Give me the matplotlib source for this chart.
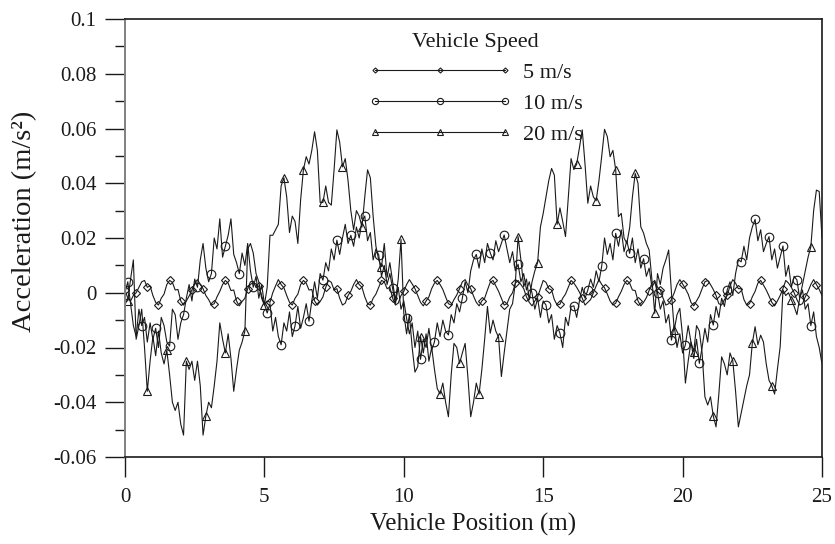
import numpy as np
import matplotlib
matplotlib.use("Agg")
import matplotlib.pyplot as plt
from matplotlib.ticker import MultipleLocator, FuncFormatter

plt.rcParams["font.family"] = ["Liberation Serif", "DejaVu Serif"]

# Vehicle position grid (m), one sample every 0.1 m
position = np.round(np.arange(0, 25.0001, 0.1), 1)

# Acceleration response (m/s^2) for each vehicle speed
acc_5 = [
    0.001, -0.002, -0.003, -0.001, 0.0, 0.002, 0.004, 0.0045, 0.002, 0.0025,
    -0.001, -0.0035, -0.0045, -0.002, -0.0005, 0.003, 0.0045, 0.0038, 0.001, 0.0012,
    -0.003, -0.0045, -0.003, -0.0012, 0.001, 0.0035, 0.0048, 0.003, 0.0015, -0.001,
    -0.0025, -0.0045, -0.004, -0.0015, 0.0005, 0.003, 0.0045, 0.0035, 0.0008, 0.001,
    -0.003, -0.0048, -0.0032, -0.002, 0.0015, 0.004, 0.0042, 0.002, 0.0025, -0.001,
    -0.0045, -0.003, -0.0035, 0.0, 0.0025, 0.0048, 0.003, 0.0018, -0.001, -0.0035,
    -0.0045, -0.002, -0.0005, 0.003, 0.0045, 0.0035, 0.001, 0.0012, -0.003, -0.0045,
    -0.0032, -0.0015, 0.002, 0.0045, 0.0038, 0.001, 0.0015, -0.002, -0.0045, -0.0038,
    -0.001, 0.0005, 0.003, 0.0048, 0.003, 0.002, -0.0015, -0.004, -0.0045, -0.002,
    -0.0005, 0.002, 0.0045, 0.004, 0.0015, 0.002, -0.002, -0.0045, -0.0038, -0.001,
    0.0005, 0.003, 0.0048, 0.0032, 0.0015, -0.001, -0.0035, -0.0048, -0.003, -0.0015,
    0.0015, 0.0035, 0.0045, 0.003, 0.0012, -0.0015, -0.004, -0.0045, -0.0025, -0.0008,
    0.0015, 0.004, 0.0048, 0.0028, 0.0015, -0.0012, -0.0035, -0.0048, -0.003, -0.002,
    0.001, 0.0038, 0.0045, 0.0025, 0.0005, -0.002, -0.0045, -0.004, -0.0015, 0.0,
    0.0035, 0.0045, 0.003, 0.0015, -0.0015, -0.0035, -0.0048, -0.003, -0.0015, 0.0015,
    0.0045, 0.0038, 0.0015, 0.001, -0.0025, -0.0045, -0.0042, -0.002, -0.0005, 0.002,
    0.0045, 0.0035, 0.002, 0.0002, -0.002, -0.0045, -0.0035, -0.0025, 0.0, 0.0025,
    0.0048, 0.003, 0.0018, -0.0005, -0.003, -0.0045, -0.0038, -0.0015, 0.0005, 0.003,
    0.0045, 0.0035, 0.001, 0.0008, -0.003, -0.0048, -0.0035, -0.0018, 0.0008, 0.0035,
    0.0045, 0.002, 0.001, -0.002, -0.0045, -0.004, -0.0025, 0.0, 0.003, 0.0048,
    0.0032, 0.0015, -0.0005, -0.0035, -0.0048, -0.003, -0.0012, 0.0015, 0.004, 0.0045,
    0.003, 0.0012, -0.001, -0.004, -0.0045, -0.0025, -0.001, 0.0025, 0.0048, 0.0035,
    0.0015, 0.0015, -0.0025, -0.0045, -0.004, -0.0015, 0.0005, 0.0035, 0.0045, 0.0028,
    0.001, -0.0012, -0.0035, -0.0048, -0.003, -0.001, 0.0015, 0.0045, 0.0035, 0.002,
    0.0, -0.0025, -0.0045, -0.004, -0.0015, 0.0005, 0.003, 0.0048, 0.003, 0.0012,
    -0.001,
]

acc_10 = [
    0.0, 0.004, -0.004, -0.012, -0.016, -0.006, -0.012, -0.009, -0.018, -0.011,
    -0.017, -0.013, -0.02, -0.009, -0.012, -0.018, -0.0195, -0.006, -0.008, -0.017,
    -0.011, -0.008, -0.002, 0.003, -0.003, 0.005, 0.002, 0.012, 0.018, 0.009,
    0.004, 0.007, 0.02, 0.016, 0.027, 0.013, 0.017, 0.021, 0.027, 0.014,
    0.011, 0.007, 0.0145, 0.01, 0.018, 0.008, 0.002, 0.006, -0.002, 0.003,
    -0.004, -0.0074, -0.004, -0.014, -0.009, -0.016, -0.019, -0.011, -0.014, -0.007,
    -0.016, -0.012, -0.005, -0.013, -0.009, -0.004, -0.0104, -0.003, 0.004, -0.002,
    0.007, 0.0046, 0.011, 0.008, 0.016, 0.012, 0.0192, 0.014, 0.02, 0.025,
    0.018, 0.021, 0.017, 0.024, 0.02, 0.026, 0.028, 0.019, 0.022, 0.012,
    0.016, 0.0138, 0.006, 0.01, 0.003, 0.007, 0.0016, -0.004, 0.002, -0.006,
    -0.003, -0.0093, -0.015, -0.011, -0.02, -0.014, -0.0243, -0.017, -0.02, -0.013,
    -0.021, -0.0179, -0.011, -0.016, -0.01, -0.014, -0.0154, -0.008, -0.011, -0.004,
    -0.007, -0.002, 0.004, 0.0, 0.008, 0.012, 0.014, 0.009, 0.016, 0.011,
    0.018, 0.0146, 0.012, 0.019, 0.015, 0.018, 0.0211, 0.016, 0.011, 0.015,
    0.008, 0.0104, 0.004, 0.007, 0.001, 0.004, -0.0002, -0.006, -0.002, -0.009,
    -0.003, -0.0045, -0.011, -0.008, -0.017, -0.012, -0.0148, -0.02, -0.009, -0.012,
    -0.005, -0.0048, -0.009, -0.003, 0.002, -0.002, 0.001, 0.005, 0.002, 0.008,
    0.004, 0.0098, 0.02, 0.014, 0.018, 0.012, 0.0217, 0.017, 0.023, 0.015,
    0.019, 0.0144, 0.02, 0.011, 0.016, 0.009, 0.0124, 0.006, 0.009, 0.002,
    0.004, 0.0, -0.006, -0.003, -0.011, -0.008, -0.0173, -0.012, -0.02, -0.015,
    -0.022, -0.019, -0.012, -0.018, -0.024, -0.017, -0.0258, -0.02, -0.013, -0.018,
    -0.008, -0.0118, -0.005, -0.009, -0.002, -0.005, 0.001, 0.004, -0.001, 0.007,
    0.012, 0.0113, 0.017, 0.012, 0.02, 0.024, 0.0268, 0.019, 0.023, 0.015,
    0.018, 0.0205, 0.012, 0.016, 0.009, 0.013, 0.0171, 0.006, 0.01, 0.002,
    0.006, 0.0047, -0.002, 0.001, -0.006, -0.004, -0.012, -0.007, -0.016, -0.02,
    -0.026,
]

acc_20 = [
    -0.002, -0.003, 0.005, 0.012, -0.017, -0.012, -0.006, -0.02, -0.036, -0.025,
    -0.016, -0.023, -0.014, -0.022, -0.026, -0.021, -0.03, -0.04, -0.043, -0.04,
    -0.048, -0.052, -0.025, -0.028, -0.025, -0.032, -0.025, -0.034, -0.052, -0.045,
    -0.04, -0.042, -0.034, -0.025, -0.011, -0.017, -0.022, -0.015, -0.024, -0.036,
    -0.028, -0.021, -0.018, -0.014, 0.016, 0.018, 0.0145, 0.007, 0.004, -0.002,
    -0.0045, 0.002, 0.021, 0.021, 0.023, 0.025, 0.039, 0.042, 0.035, 0.022,
    0.028, 0.026, 0.018, 0.034, 0.045, 0.0497, 0.047, 0.052, 0.0588, 0.052,
    0.033, 0.033, 0.039, 0.033, 0.032, 0.045, 0.0595, 0.055, 0.046, 0.049,
    0.041, 0.03, 0.023, 0.03, 0.028, 0.024, 0.035, 0.0449, 0.042, 0.028,
    0.017, 0.012, 0.0095, 0.018, 0.0056, 0.011, 0.004, -0.003, 0.005, 0.0195,
    -0.0075, -0.015, -0.008, -0.02, -0.029, -0.027, -0.016, -0.022, -0.015, -0.025,
    -0.02, -0.028, -0.035, -0.037, -0.033, -0.04, -0.0453, -0.03, -0.0185, -0.02,
    -0.0258, -0.022, -0.0185, -0.031, -0.0453, -0.04, -0.033, -0.037, -0.028, -0.017,
    -0.005, -0.0148, -0.01, -0.014, -0.0163, -0.0306, -0.022, -0.014, -0.006, -0.004,
    0.0035, 0.0205, 0.012, 0.0022, 0.005, -0.0026, 0.004, 0.008, 0.011, 0.024,
    0.029, 0.035, 0.041, 0.0454, 0.043, 0.025, 0.031, 0.026, 0.0205, 0.035,
    0.049, 0.045, 0.047, 0.053, 0.0595, 0.047, 0.0327, 0.039, 0.035, 0.0336,
    0.041, 0.05, 0.0597, 0.057, 0.0497, 0.052, 0.0449, 0.0278, 0.029, 0.02,
    0.018, 0.0237, 0.035, 0.0436, 0.04, 0.0241, 0.0218, 0.018, 0.0156, 0.0047,
    -0.0075, 0.007, 0.003, 0.009, 0.012, 0.0156, 0.0, -0.0136, -0.008, -0.0057,
    -0.016, -0.033, -0.025, -0.018, -0.0215, -0.012, -0.014, -0.022, -0.038, -0.041,
    -0.038, -0.045, -0.049, -0.037, -0.0234, -0.026, -0.03, -0.022, -0.0248, -0.036,
    -0.049, -0.044, -0.039, -0.034, -0.03, -0.0185, -0.0124, -0.019, -0.0155, -0.018,
    -0.026, -0.032, -0.034, -0.037, -0.028, -0.0197, 0.001, -0.001, 0.0, -0.0026,
    -0.005, -0.008, -0.002, 0.003, 0.008, 0.013, 0.0168, 0.03, 0.0375, 0.037,
    0.02,
]

speed_labels = ["5 m/s", "10 m/s", "20 m/s"]
y_ticks = [-0.06, -0.04, -0.02, 0, 0.02, 0.04, 0.06, 0.08, 0.1]
x_ticks = [0, 5, 10, 15, 20, 25]

W, H = 835, 544
fig = plt.figure(figsize=(W / 100, H / 100), dpi=100)
ax = fig.add_axes([125 / W, 1 - 457 / H, (822 - 125) / W, (457 - 19) / H])

ink = "#1a1a1a"
line_kw = dict(color=ink, lw=0.8, markerfacecolor="none", markeredgecolor=ink,
               markeredgewidth=0.8)
ax.plot(position, acc_5, marker="D", markersize=3.6, markevery=(0, 4),
        label=speed_labels[0], **line_kw)
ax.plot(position, acc_10, marker="o", markersize=6.2, markevery=(1, 5),
        label=speed_labels[1], **line_kw)
ax.plot(position, acc_20, marker="^", markersize=6.2, markevery=(1, 7),
        label=speed_labels[2], **line_kw)

ax.set_xlim(0, 25)
ax.set_ylim(-0.06, 0.1)
ax.set_xticks(x_ticks)
ax.set_yticks(y_ticks)
ax.yaxis.set_minor_locator(MultipleLocator(0.01))
ax.yaxis.set_major_formatter(FuncFormatter(lambda v, p: f"{round(v, 2):g}"))
ax.xaxis.set_major_formatter(FuncFormatter(lambda v, p: f"{v:g}"))

ax.tick_params(axis="both", which="major", direction="out", length=14.5,
               width=1.0, color=ink, labelsize=15, labelcolor=ink)
ax.tick_params(axis="y", which="major", pad=6)
ax.tick_params(axis="x", which="major", pad=8)
ax.tick_params(axis="y", which="minor", direction="out", length=7, width=1.0,
               color=ink)

for side in ("top", "right", "bottom"):
    ax.spines[side].set_color(ink)
    ax.spines[side].set_linewidth(1.2)
ax.spines["left"].set_color("#808080")
ax.spines["left"].set_linewidth(1.4)

ax.set_xlabel("Vehicle Position (m)", fontsize=18, color=ink, labelpad=4)
ax.set_ylabel("Acceleration (m/s²)", fontsize=20.5, color=ink)
ax.yaxis.set_label_coords(-0.126, 0.5377)

leg = ax.legend(title="Vehicle Speed", loc="upper left",
                bbox_to_anchor=(368.3 / W, 1 - 33 / H),
                bbox_transform=fig.transFigure, frameon=False,
                fontsize=16, title_fontsize=16, numpoints=3,
                handlelength=6.45, handletextpad=0.51, labelspacing=0.47,
                borderpad=0, borderaxespad=0, markerscale=0.72)
leg.get_title().set_color(ink)
for t in leg.get_texts():
    t.set_color(ink)

fig.savefig("out.png", dpi=100)
